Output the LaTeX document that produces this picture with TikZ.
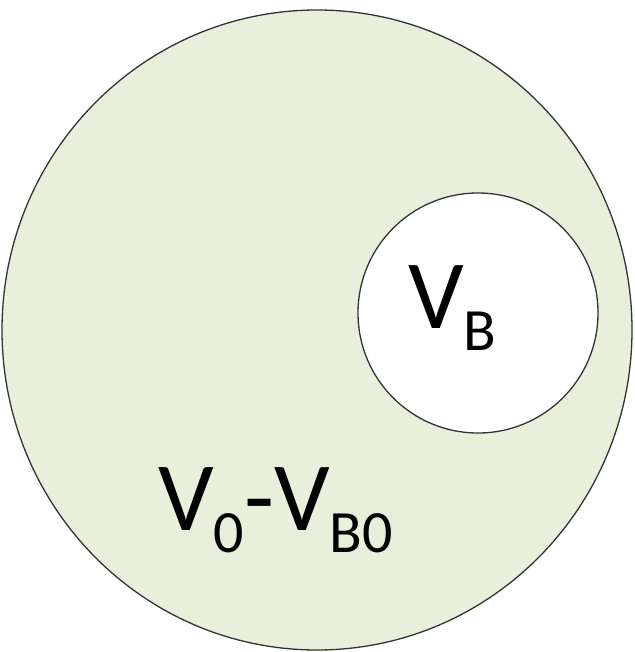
\documentclass[tikz,border=0pt]{standalone}
\usepackage{fontspec}
\setmainfont{Carlito}
\usepackage{tikz}
\definecolor{volgreen}{HTML}{E8F0DB}
\newcommand{\bigtxt}{\fontsize{98}{98}\selectfont}
\newcommand{\subtxt}[1]{\raisebox{-22pt}{\fontsize{60}{60}\selectfont #1}}

\begin{document}
\begin{tikzpicture}[x=1pt, y=-1pt]
        \useasboundingbox (0,0) rectangle (634,652);
        \draw[line width=1.3pt, fill=volgreen, draw=black!80] (317,330) ellipse [x radius=315, y radius=320];
        \draw[line width=1.3pt, fill=white, draw=black!80] (478,313) circle [radius=120];
        \node[anchor=base west, inner sep=0pt] (vb) at (408,328) {\bigtxt V\subtxt{B}};
        \node[anchor=base west, inner sep=0pt] (vrest) at (158,530) {\bigtxt V\subtxt{0}-V\subtxt{B0}};
    \end{tikzpicture}
\end{document}
